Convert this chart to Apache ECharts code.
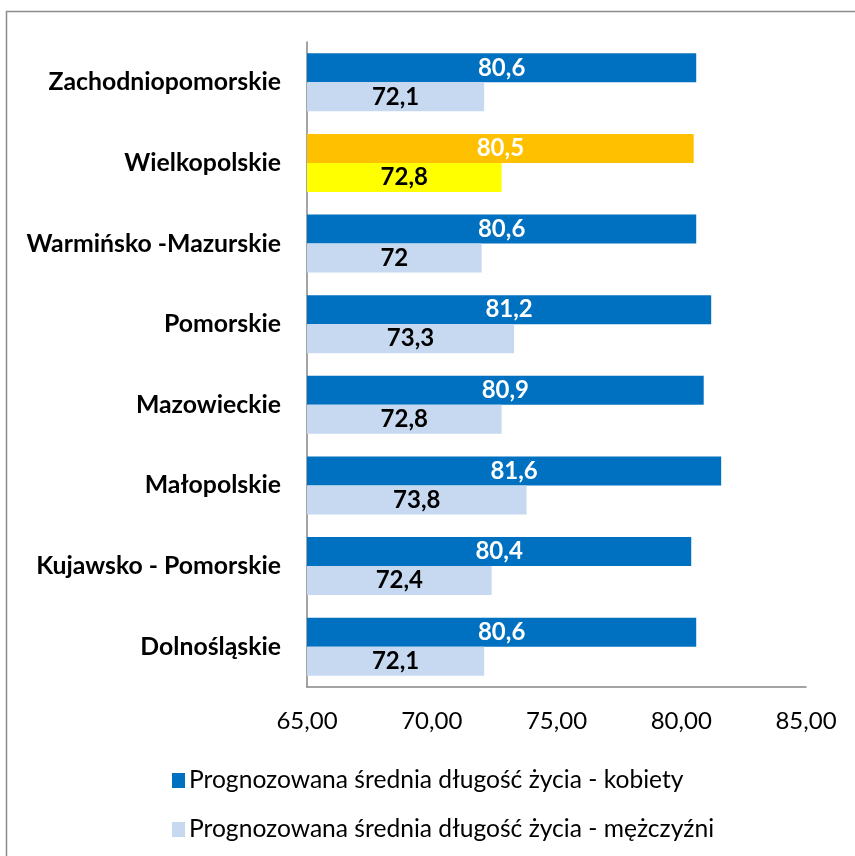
<!DOCTYPE html>
<html>
<head>
<meta charset="utf-8">
<script src="https://cdn.jsdelivr.net/npm/echarts@6/dist/echarts.min.js"></script>
<style>
  html, body { margin: 0; padding: 0; background: #fff; }
  #chart { width: 855px; height: 856px; }
</style>
</head>
<body>
<div id="chart"></div>
<script>
// wojewodztwa, od gory
const regions = ['Zachodniopomorskie', 'Wielkopolskie', 'Warmińsko -Mazurskie', 'Pomorskie',
  'Mazowieckie', 'Małopolskie', 'Kujawsko - Pomorskie', 'Dolnośląskie'];
const women = [80.6, 80.5, 80.6, 81.2, 80.9, 81.6, 80.4, 80.6];
const men = [72.1, 72.8, 72, 73.3, 72.8, 73.8, 72.4, 72.1];
const xTicks = [65, 70, 75, 80, 85];
const highlighted = 'Wielkopolskie';

const seriesNames = ['Prognozowana średnia długość życia - kobiety', 'Prognozowana średnia długość życia - mężczyźni'];
const font = 'Lato';

function fmt(v) {
  return String(v).replace('.', ',');
}

function barData(values, normal, special) {
  return values.map((v, i) => ({
    value: v,
    itemStyle: { color: regions[i] === highlighted ? special : normal }
  }));
}

const chart = echarts.init(document.getElementById('chart'));

chart.setOption({
  animation: false,
  textStyle: { fontFamily: font },
  graphic: [{
    type: 'rect',
    shape: { x: 6.5, y: 11.5, width: 900, height: 900 },
    style: { fill: 'none', stroke: '#8c8c8c', lineWidth: 1.5 },
    z: -1
  }],
  grid: { left: 307, right: 49, top: 42, bottom: 169 },
  legend: {
    orient: 'vertical',
    left: 167,
    top: 763,
    itemGap: 24,
    itemWidth: 13,
    itemHeight: 15,
    icon: 'rect',
    textStyle: { fontSize: 24.6, color: '#000', fontFamily: font, padding: [0, 0, 0, -1] },
    data: [
      { name: seriesNames[0], itemStyle: { color: '#0070C0' } },
      { name: seriesNames[1], itemStyle: { color: '#C6D9F1' } }
    ]
  },
  xAxis: {
    type: 'value',
    min: 65,
    max: 85,
    interval: 5,
    axisLine: { show: true, lineStyle: { color: '#868686', width: 1.5 } },
    axisTick: { show: false },
    splitLine: { show: false },
    axisLabel: {
      color: '#000',
      fontSize: 24,
      margin: 22,
      formatter: v => xTicks.includes(v) ? v.toFixed(2).replace('.', ',') : ''
    }
  },
  yAxis: {
    type: 'category',
    inverse: true,
    data: regions,
    axisLine: { show: true, lineStyle: { color: '#868686', width: 1.5 } },
    axisTick: { show: false },
    axisLabel: { color: '#000', fontSize: 24.8, fontWeight: 'bold', margin: 26 }
  },
  series: [
    {
      name: seriesNames[0],
      type: 'bar',
      barWidth: 29,
      barGap: '0%',
      itemStyle: { color: '#0070C0' },
      data: barData(women, '#0070C0', '#FFC000'),
      label: {
        show: true,
        position: 'inside',
        color: '#fff',
        fontSize: 24,
        fontWeight: 'bold',
        formatter: p => fmt(p.value)
      }
    },
    {
      name: seriesNames[1],
      type: 'bar',
      barWidth: 29,
      barGap: '0%',
      itemStyle: { color: '#C6D9F1' },
      data: barData(men, '#C6D9F1', '#FFFF00'),
      label: {
        show: true,
        position: 'inside',
        color: '#000',
        fontSize: 24,
        fontWeight: 'bold',
        formatter: p => fmt(p.value)
      }
    }
  ]
});
</script>
</body>
</html>
